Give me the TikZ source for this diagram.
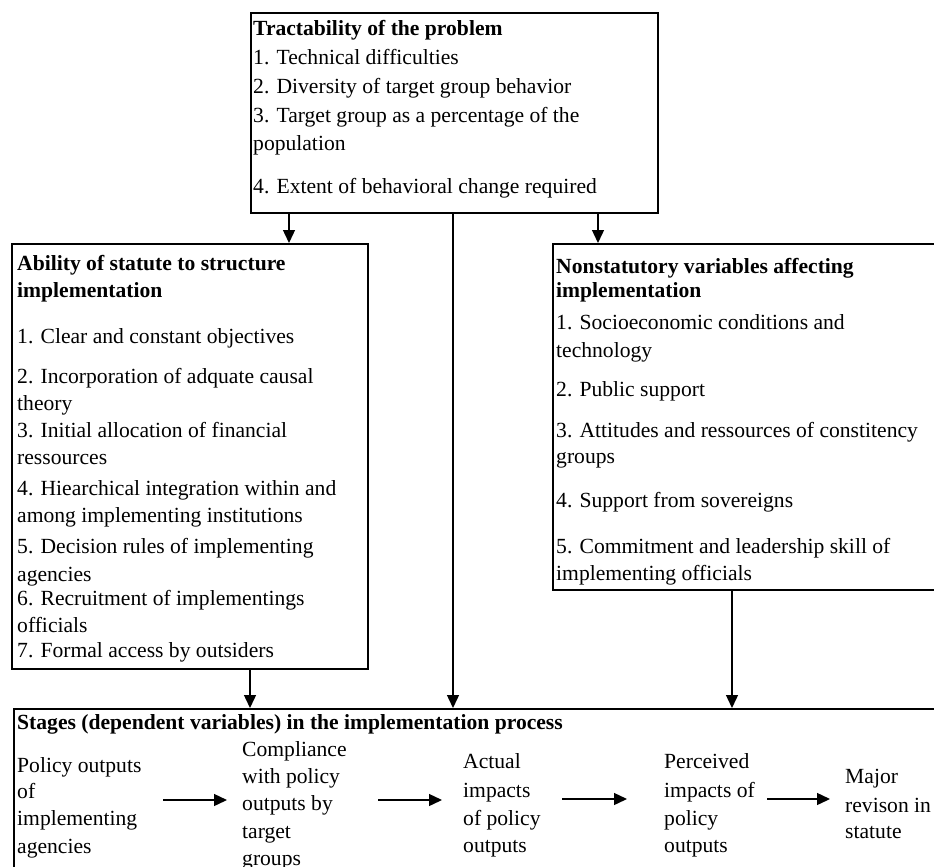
\documentclass[tikz,border=0pt]{standalone}
\usepackage{fontspec}
\setmainfont{Liberation Serif}
\usetikzlibrary{arrows.meta}

\tikzset{
  box/.style={draw, line width=1.6pt, rectangle, anchor=north west, inner sep=0pt},
  txt/.style={anchor=base west, inner sep=0pt, font=\fontsize{21.6}{26}\selectfont},
  hd/.style={anchor=base west, inner sep=0pt, font=\fontsize{21.6}{26}\selectfont\bfseries},
  arr/.style={line width=1.4pt, -{Triangle[length=13pt,width=12pt]}},
}

\begin{document}
\begin{tikzpicture}[x=1pt,y=-1pt]
\useasboundingbox (0,0) rectangle (934,867);
\clip (0,0) rectangle (934,867);

% ---- boxes ----
\node[box, minimum width=407pt, minimum height=200pt] (tract) at (250,12) {};
\node[box, minimum width=356pt, minimum height=425pt] (statute) at (11,243) {};
\node[box, minimum width=450pt, minimum height=346pt] (nonstat) at (552,243) {};
\node[box, minimum width=1000pt, minimum height=300pt] (stages) at (13,708) {};

% ---- tractability of the problem ----
\node[hd] (tract-h) at (253,36) {Tractability of the problem};
\foreach \y/\t [count=\i] in {
  65/{1. Technical difficulties},
  93/{2. Diversity of target group behavior},
  122/{3. Target group as a percentage of the},
  150/{population},
  193/{4. Extent of behavioral change required}}
  \node[txt] (tract-\i) at (253,\y) {\t};

% ---- ability of statute ----
\node[hd] (statute-h1) at (17,270) {Ability of statute to structure};
\node[hd] (statute-h2) at (17,297) {implementation};
\foreach \y/\t [count=\i] in {
  343/{1. Clear and constant objectives},
  383/{2. Incorporation of adquate causal},
  410/{theory},
  437/{3. Initial allocation of financial},
  464/{ressources},
  495/{4. Hiearchical integration within and},
  522/{among implementing institutions},
  553/{5. Decision rules of implementing},
  581/{agencies},
  605/{6. Recruitment of implementings},
  632/{officials},
  657/{7. Formal access by outsiders}}
  \node[txt] (statute-\i) at (17,\y) {\t};

% ---- nonstatutory variables ----
\node[hd] (nonstat-h1) at (556,273) {Nonstatutory variables affecting};
\node[hd] (nonstat-h2) at (556,297) {implementation};
\foreach \y/\t [count=\i] in {
  329/{1. Socioeconomic conditions and},
  357/{technology},
  396/{2. Public support},
  437/{3. Attitudes and ressources of constitency},
  463/{groups},
  507/{4. Support from sovereigns},
  553/{5. Commitment and leadership skill of},
  580/{implementing officials}}
  \node[txt] (nonstat-\i) at (556,\y) {\t};

% ---- stages ----
\node[hd] (stages-h) at (17,729) {Stages (dependent variables) in the implementation process};
\foreach \x/\y/\t [count=\i] in {
  17/772/{Policy outputs}, 17/798/{of}, 17/825/{implementing}, 17/853/{agencies},
  242/756/{Compliance}, 242/783/{with policy}, 242/810/{outputs by}, 242/838/{target}, 242/865/{groups},
  463/768/{Actual}, 463/797/{impacts}, 463/825/{of policy}, 463/852/{outputs},
  664/768/{Perceived}, 664/797/{impacts of}, 664/825/{policy}, 664/852/{outputs},
  845/783/{Major}, 845/812/{revison in}, 845/838/{statute}}
  \node[txt] (stage-\i) at (\x,\y) {\t};

% ---- connector positions ----
\coordinate (xa) at (289,0);
\coordinate (xb) at (453,0);
\coordinate (xc) at (598,0);
\coordinate (xd) at (250,0);
\coordinate (xe) at (732,0);

\draw[arr] (tract.south -| xa) -- (statute.north -| xa);
\draw[arr] (tract.south -| xc) -- (nonstat.north -| xc);
\draw[arr] (tract.south -| xb) -- (stages.north -| xb);
\draw[arr] (statute.south -| xd) -- (stages.north -| xd);
\draw[arr] (nonstat.south -| xe) -- (stages.north -| xe);

% ---- stage sequence ----
\coordinate (s1a) at (163,800); \coordinate (s1b) at (227,800);
\coordinate (s2a) at (378,800); \coordinate (s2b) at (442,800);
\coordinate (s3a) at (562,799); \coordinate (s3b) at (627,799);
\coordinate (s4a) at (767,799); \coordinate (s4b) at (830,799);
\draw[arr] (s1a) -- (s1b);
\draw[arr] (s2a) -- (s2b);
\draw[arr] (s3a) -- (s3b);
\draw[arr] (s4a) -- (s4b);
\end{tikzpicture}
\end{document}
